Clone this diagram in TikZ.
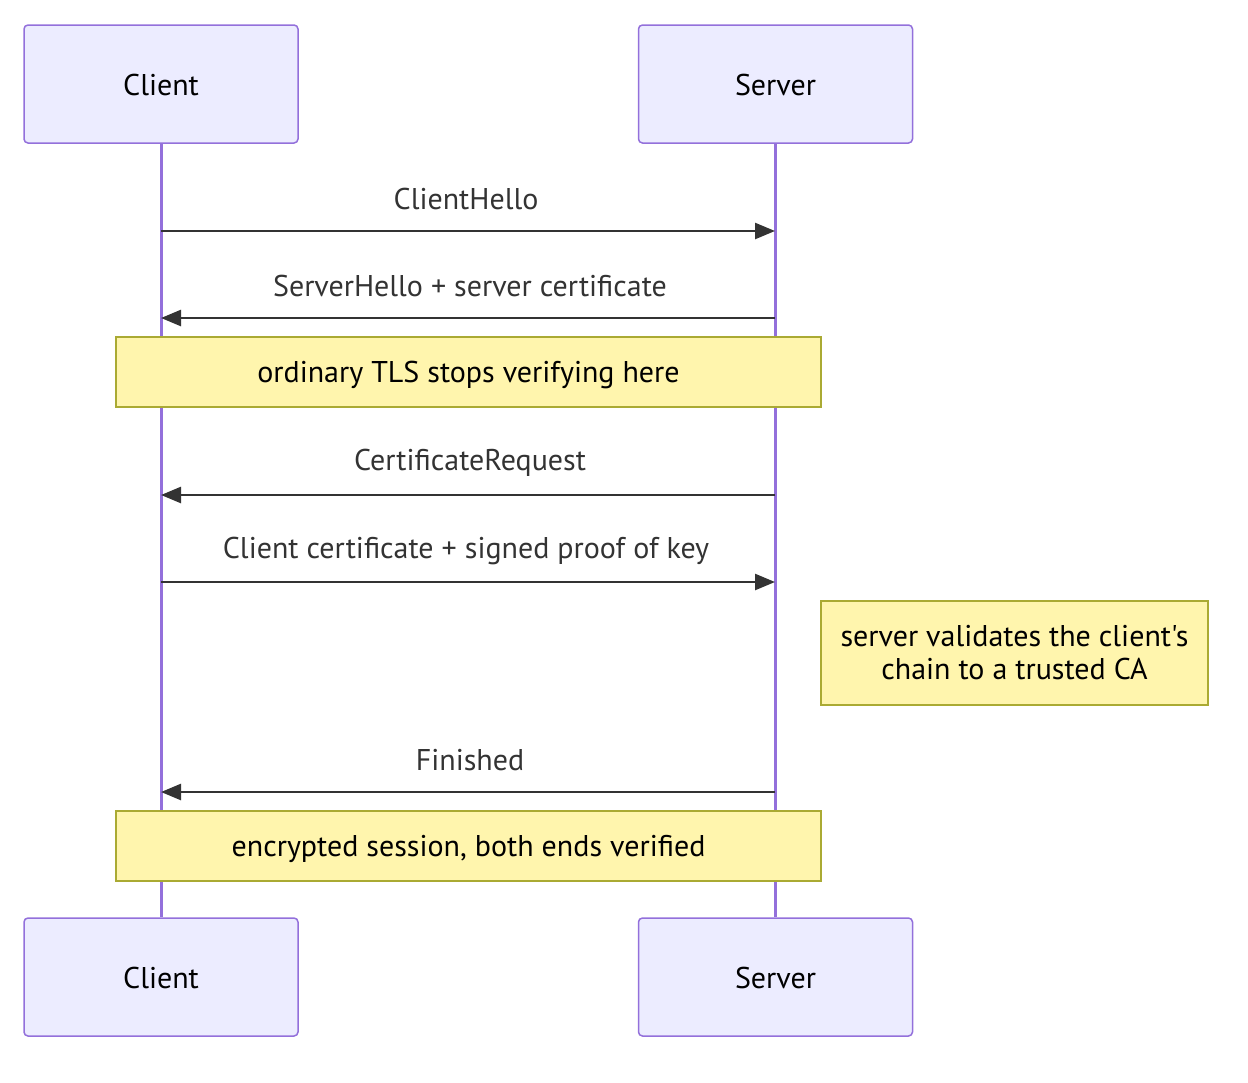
\documentclass[tikz,border=0pt]{standalone}
\usepackage{fontspec}
\setmainfont{PT Sans}[Ligatures=TeXOff]
\usetikzlibrary{arrows.meta}
\definecolor{actfill}{HTML}{ECECFF}
\definecolor{actline}{HTML}{9370DB}
\definecolor{notefill}{HTML}{FFF5AD}
\definecolor{noteline}{HTML}{AAAA33}
\definecolor{msgline}{HTML}{333333}
\tikzset{
  actor/.style={draw=actline, fill=actfill, line width=1.5pt, rounded corners=4pt,
    minimum width=274pt, minimum height=118pt, inner sep=0pt, text=black,
    text height=23pt, text depth=0pt,
    font=\fontsize{30}{36}\selectfont},
  lifeline/.style={draw=actline, line width=3pt},
  msg/.style={draw=msgline, line width=2.5pt, -{Triangle[length=20pt,width=16pt]}},
  msglabel/.style={text=msgline, font=\fontsize{30}{36}\selectfont, inner sep=0pt},
  note/.style={draw=noteline, fill=notefill, line width=1.5pt, inner sep=0pt,
    text=black, font=\fontsize{30}{33}\selectfont, align=center},
  onenote/.style={note, text height=26pt, text depth=6pt},
}
\begin{document}
\begin{tikzpicture}[x=1pt,y=-1pt]
\useasboundingbox (0,0) rectangle (1248,1082);
\node[actor] (c1) at (161,84) {Client};
\node[actor] (s1) at (775.5,84) {Server};
\node[actor] (c2) at (161,977) {Client};
\node[actor] (s2) at (775.5,977) {Server};
\draw[lifeline] (c1.south) -- (c2.north);
\draw[lifeline] (s1.south) -- (s2.north);
% messages
\coordinate (m1a) at (161,231); \coordinate (m1b) at (775,231);
\coordinate (m2a) at (775,318); \coordinate (m2b) at (161,318);
\coordinate (m3a) at (775,495); \coordinate (m3b) at (161,495);
\coordinate (m4a) at (161,582); \coordinate (m4b) at (775,582);
\coordinate (m5a) at (775,792); \coordinate (m5b) at (161,792);
\draw[msg] (m1a) -- (m1b);
\draw[msg] (m2a) -- (m2b);
\draw[msg] (m3a) -- (m3b);
\draw[msg] (m4a) -- (m4b);
\draw[msg] (m5a) -- (m5b);
\node[msglabel] (l1) at (466,199) {ClientHello};
\node[msglabel] (l2) at (470,286) {ServerHello + server certificate};
\node[msglabel] (l3) at (470,463) {CertificateRequest};
\node[msglabel] (l4) at (466,551) {Client certificate + signed proof of key};
\node[msglabel] (l5) at (470,760) {Finished};
% notes
\node[onenote, minimum width=705pt, minimum height=70pt] (n1) at (468.5,372) {ordinary TLS stops verifying here};
\node[note, minimum width=387pt, minimum height=104pt] (n2) at (1014.5,653) {server validates the client's\\chain to a trusted CA};
\node[onenote, minimum width=705pt, minimum height=70pt] (n3) at (468.5,846) {encrypted session, both ends verified};
\end{tikzpicture}
\end{document}
